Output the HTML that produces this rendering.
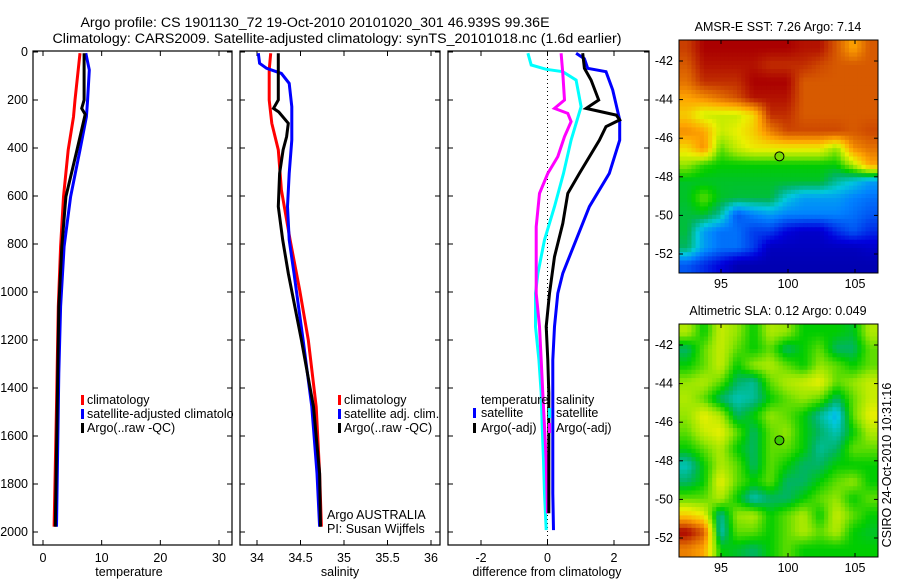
<!DOCTYPE html>
<html><head><meta charset="utf-8"><style>
html,body{margin:0;padding:0;background:#fff;}
svg{display:block;font-family:"Liberation Sans",sans-serif;}
</style></head><body>
<svg id="fig" width="900" height="580" viewBox="0 0 900 580" xmlns="http://www.w3.org/2000/svg">
<defs>
<clipPath id="c1"><rect x="33" y="51" width="199" height="494"/></clipPath>
<clipPath id="c2"><rect x="240" y="51" width="200" height="494"/></clipPath>
<clipPath id="c3"><rect x="448" y="51" width="201" height="494"/></clipPath>
<clipPath id="cl1"><rect x="33" y="380" width="207" height="60"/></clipPath>
</defs>
<text x="315" y="27" font-size="14.2" text-anchor="middle">Argo profile: CS 1901130_72 19-Oct-2010 20101020_301 46.939S 99.36E</text>
<text x="337" y="43" font-size="14.2" text-anchor="middle" textLength="569" lengthAdjust="spacingAndGlyphs">Climatology: CARS2009. Satellite-adjusted climatology: synTS_20101018.nc (1.6d earlier)</text>
<text x="778" y="31" font-size="12.5" text-anchor="middle">AMSR-E SST: 7.26 Argo: 7.14</text>
<text x="778" y="315" font-size="12.5" text-anchor="middle">Altimetric SLA: 0.12 Argo: 0.049</text>
<text transform="translate(891,465) rotate(-90)" font-size="12.5" text-anchor="middle">CSIRO 24-Oct-2010 10:31:16</text>
<g id="layer"></g>
</svg>
<script>
// ---------- data ----------
const depthTick = [0,200,400,600,800,1000,1200,1400,1600,1800,2000];
const tempTick = [0,10,20,30];
const salTick = [34,34.5,35,35.5,36];
const salTickLabel = ["34","34.5","35","35.5","36"];
const diffTick = [-2,0,2];

const tClimDepth = [5,75,200,270,408,603,811,1061,1339,1478,1978];
const tClim = [6.3,6.0,5.45,5.2,4.3,3.5,3.0,2.6,2.4,2.3,1.9];
const tSatDepth = [5,75,200,270,408,603,811,1061,1339,1478,1978];
const tSat = [7.3,7.9,7.6,7.4,6.3,4.7,3.6,3.0,2.7,2.6,2.3];
const tArgoDepth = [5,200,235,260,408,603,811,1061,1978];
const tArgo = [7.0,7.0,6.6,7.2,5.8,3.9,3.2,2.7,2.1];

const sClimDepth = [5,75,200,297,408,575,783,990,1200,1478,1756,1978];
const sClim = [34.157,34.14,34.14,34.17,34.245,34.28,34.38,34.49,34.59,34.68,34.72,34.74];
const sSatDepth = [5,47,68,89,131,228,367,506,644,783,922,1200,1478,1756,1978];
const sSat = [34.015,34.03,34.11,34.28,34.37,34.40,34.40,34.37,34.35,34.37,34.425,34.53,34.63,34.69,34.72];
const sArgoDepth = [5,200,235,250,297,353,408,506,644,783,922,1200,1478,1756,1978];
const sArgo = [34.245,34.245,34.19,34.25,34.36,34.34,34.30,34.26,34.245,34.295,34.36,34.51,34.65,34.72,34.73];

const dSalSatDepth = [5,54,72,82,117,228,367,506,644,783,922,1006,1144,1283,1422,1561,1700,1839,1992];
const dSalSat = [-0.59,-0.49,-0.04,0.46,0.86,1.01,0.71,0.48,0.21,-0.09,-0.29,-0.36,-0.36,-0.26,-0.19,-0.16,-0.12,-0.09,-0.04];
const dSalArgoDepth = [5,89,200,235,256,290,353,436,506,589,728,922,1006,1144,1283,1422,1561,1700,1922];
const dSalArgo = [0.41,0.46,0.51,0.21,0.61,0.71,0.51,0.31,0.01,-0.24,-0.34,-0.34,-0.34,-0.24,-0.19,-0.14,-0.09,-0.04,0.0];
const dTempSatDepth = [5,28,68,82,158,283,367,506,644,783,922,1006,1144,1283,1561,1839,1992];
const dTempSat = [0.86,1.11,1.21,1.76,1.96,2.17,2.17,1.86,1.26,0.86,0.46,0.31,0.21,0.16,0.16,0.16,0.18];
const dTempArgoDepth = [5,68,117,200,235,263,283,311,367,506,589,714,853,1006,1144,1283,1422,1922];
const dTempArgo = [1.06,1.11,1.31,1.54,1.16,2.07,2.17,1.76,1.56,0.96,0.61,0.46,0.21,0.06,-0.04,0.01,0.04,0.04];

const latTick = [-42,-44,-46,-48,-50,-52];
const lonTick = [95,100,105];
const argoLon = 99.36, argoLat = -46.939;
const sstGrid = [
[0.88,0.95,0.95,0.95,0.95,0.95,0.95,0.93,0.93,0.85,0.75,0.85],
[0.85,0.93,0.93,0.93,0.93,0.9,0.9,0.9,0.87,0.85,0.85,0.85],
[0.82,0.9,0.9,0.9,0.95,0.95,0.95,0.85,0.85,0.85,0.85,0.85],
[0.75,0.78,0.82,0.86,0.93,0.93,0.93,0.85,0.85,0.85,0.85,0.85],
[0.7,0.62,0.62,0.62,0.68,0.9,0.9,0.85,0.85,0.85,0.85,0.85],
[0.78,0.75,0.62,0.65,0.7,0.8,0.87,0.87,0.87,0.87,0.85,0.87],
[0.68,0.78,0.55,0.62,0.66,0.66,0.66,0.66,0.66,0.58,0.78,0.82],
[0.58,0.52,0.5,0.5,0.5,0.5,0.5,0.5,0.5,0.5,0.6,0.75],
[0.48,0.48,0.48,0.48,0.48,0.48,0.48,0.48,0.48,0.42,0.38,0.33],
[0.48,0.55,0.48,0.47,0.47,0.47,0.38,0.33,0.33,0.33,0.3,0.28],
[0.47,0.48,0.42,0.25,0.3,0.33,0.3,0.3,0.3,0.3,0.28,0.25],
[0.47,0.33,0.28,0.28,0.22,0.22,0.15,0.12,0.12,0.2,0.25,0.2],
[0.45,0.33,0.28,0.28,0.22,0.1,0.1,0.1,0.1,0.1,0.1,0.12],
[0.25,0.2,0.15,0.08,0.08,0.08,0.08,0.08,0.08,0.08,0.08,0.08]];
const slaGrid = [
[0.6,0.5,0.62,0.58,0.5,0.6,0.58,0.5,0.5,0.5,0.48,0.6],
[0.45,0.55,0.62,0.55,0.5,0.55,0.45,0.5,0.55,0.45,0.45,0.55],
[0.5,0.55,0.62,0.5,0.58,0.6,0.55,0.5,0.58,0.55,0.5,0.55],
[0.58,0.6,0.55,0.45,0.42,0.55,0.6,0.62,0.65,0.55,0.58,0.62],
[0.6,0.55,0.45,0.4,0.42,0.5,0.55,0.58,0.55,0.45,0.55,0.62],
[0.58,0.65,0.6,0.45,0.5,0.58,0.55,0.5,0.42,0.35,0.55,0.65],
[0.55,0.62,0.65,0.55,0.45,0.55,0.58,0.5,0.45,0.4,0.5,0.6],
[0.5,0.55,0.6,0.5,0.45,0.55,0.55,0.5,0.42,0.45,0.55,0.55],
[0.4,0.5,0.6,0.55,0.45,0.55,0.5,0.45,0.45,0.5,0.5,0.5],
[0.45,0.5,0.65,0.55,0.5,0.55,0.45,0.45,0.5,0.55,0.58,0.5],
[0.55,0.55,0.6,0.5,0.4,0.45,0.45,0.5,0.55,0.58,0.5,0.55],
[0.7,0.65,0.42,0.58,0.6,0.5,0.55,0.6,0.5,0.62,0.55,0.5],
[0.95,0.85,0.4,0.55,0.55,0.5,0.55,0.6,0.55,0.6,0.5,0.48],
[0.8,0.75,0.5,0.48,0.45,0.5,0.55,0.5,0.5,0.5,0.5,0.5]];

// ---------- helpers ----------
const NS = "http://www.w3.org/2000/svg";
const layer = document.getElementById('layer');
function mk(tag, attrs, parent){ const e=document.createElementNS(NS,tag); for(const k in attrs) e.setAttribute(k,attrs[k]); (parent||layer).appendChild(e); return e; }
function lin(d0,d1,r0,r1){ return v => r0 + (v-d0)*(r1-r0)/(d1-d0); }
const yD = lin(0,2000,52,532);
const xT = lin(0,30,43,219);
const xS = lin(34,36,257,431);
const xDf = lin(-2,2,481,614);
const TOP=51, BOT=545;

function axesBox(x0,x1,name){
  const r = mk('rect',{x:x0,y:TOP,width:x1-x0,height:BOT-TOP,fill:'none',stroke:'#000','stroke-width':1.2});
  
  
  depthTick.forEach(d=>{
    mk('line',{x1:x0,x2:x0+5,y1:yD(d),y2:yD(d),stroke:'#000'});
    mk('line',{x1:x1,x2:x1-5,y1:yD(d),y2:yD(d),stroke:'#000'});
  });
}
function xTicks(vals,labels,sc,name){
  vals.forEach((v,i)=>{
    const x=sc(v);
    mk('line',{x1:x,x2:x,y1:BOT,y2:BOT-5,stroke:'#000'});
    mk('line',{x1:x,x2:x,y1:TOP,y2:TOP+5,stroke:'#000'});
    const t=mk('text',{x:x,y:562,'font-size':12.5,'text-anchor':'middle'});
    t.textContent=labels[i];
    
    
  });
}
function series(depths,vals,sc,color,clip,name){
  const pts = depths.map((d,i)=>sc(vals[i]).toFixed(1)+','+yD(d).toFixed(1)).join(' ');
  const p = mk('polyline',{points:pts,fill:'none',stroke:color,'stroke-width':3,'stroke-linejoin':'miter','clip-path':'url(#'+clip+')'});
  
  
}
function label(x,y,txt,name,size,anchor){
  const t=mk('text',{x:x,y:y,'font-size':size||12.5,'text-anchor':anchor||'start'});
  t.textContent=txt;
  
  
  return t;
}
function legBar(x,y,color,name){
  const r=mk('rect',{x:x,y:y-9,width:3,height:10,fill:color});
  
  
}

// ---------- panel 1: temperature ----------
axesBox(33,232,'temperature-axes');
depthTick.forEach(d=>{ label(28,yD(d)+4,String(d),'depth-tick-label',12.5,'end'); });
xTicks(tempTick,tempTick.map(String),xT,'temperature-tick-label');
series(tClimDepth,tClim,xT,'#ff0000','c1','temperature-climatology-line');
series(tSatDepth,tSat,xT,'#0000ff','c1','temperature-satellite-line');
series(tArgoDepth,tArgo,xT,'#000000','c1','temperature-argo-line');
label(129,576,'temperature','temperature-axis-title',12.5,'middle');
legBar(81,404,'#ff0000','legend-swatch-climatology');
legBar(81,418,'#0000ff','legend-swatch-satellite');
legBar(81,432,'#000000','legend-swatch-argo');
label(87,404,'climatology','legend-entry-climatology');
label(87,418,'satellite-adjusted climatology','legend-entry-satellite').setAttribute('clip-path','url(#cl1)');
label(87,432,'Argo(..raw -QC)','legend-entry-argo');

// ---------- panel 2: salinity ----------
mk('rect',{x:233,y:TOP,width:7,height:BOT-TOP+1,fill:'#fff'});
axesBox(240,440,'salinity-axes');
xTicks(salTick,salTickLabel,xS,'salinity-tick-label');
series(sClimDepth,sClim,xS,'#ff0000','c2','salinity-climatology-line');
series(sSatDepth,sSat,xS,'#0000ff','c2','salinity-satellite-line');
series(sArgoDepth,sArgo,xS,'#000000','c2','salinity-argo-line');
label(340,576,'salinity','salinity-axis-title',12.5,'middle');
legBar(338,404,'#ff0000','legend-swatch-climatology-2');
legBar(338,418,'#0000ff','legend-swatch-satellite-2');
legBar(338,432,'#000000','legend-swatch-argo-2');
label(344,404,'climatology','legend-entry-climatology-2');
label(344,418,'satellite adj. clim.','legend-entry-satellite-2');
label(344,432,'Argo(..raw -QC)','legend-entry-argo-2');
label(327,519,'Argo AUSTRALIA','agency-label');
label(327,533,'PI: Susan Wijffels','pi-label');

// ---------- panel 3: differences ----------
axesBox(448,649,'difference-axes');
xTicks(diffTick,diffTick.map(String),xDf,'difference-tick-label');
mk('line',{x1:xDf(0),x2:xDf(0),y1:TOP,y2:BOT,stroke:'#000','stroke-dasharray':'1,3'});
series(dSalSatDepth,dSalSat,xDf,'#00ffff','c3','salinity-satellite-diff-line');
series(dSalArgoDepth,dSalArgo,xDf,'#ff00ff','c3','salinity-argo-diff-line');
series(dTempSatDepth,dTempSat,xDf,'#0000ff','c3','temperature-satellite-diff-line');
series(dTempArgoDepth,dTempArgo,xDf,'#000000','c3','temperature-argo-diff-line');
label(547,576,'difference from climatology','difference-axis-title',12.5,'middle');
label(481,404,'temperature','legend-heading-temperature');
label(556,404,'salinity','legend-heading-salinity');
legBar(473,417,'#0000ff','legend-swatch-temp-satellite');
legBar(473,432,'#000000','legend-swatch-temp-argo');
legBar(548,417,'#00ffff','legend-swatch-sal-satellite');
legBar(548,432,'#ff00ff','legend-swatch-sal-argo');
label(481,417,'satellite','legend-entry-temp-satellite');
label(481,432,'Argo(-adj)','legend-entry-temp-argo');
label(556,417,'satellite','legend-entry-sal-satellite');
label(556,432,'Argo(-adj)','legend-entry-sal-argo');

// ---------- maps ----------
const stops=[[0,[0,0,130]],[0.15,[0,0,220]],[0.3,[0,130,255]],[0.38,[0,200,220]],[0.45,[0,180,100]],[0.5,[0,205,0]],[0.58,[150,230,0]],[0.65,[235,240,0]],[0.75,[255,165,0]],[0.85,[215,90,0]],[0.95,[170,0,0]],[1,[130,0,0]]];
function cmap(v){
  for(let i=1;i<stops.length;i++){ if(v<=stops[i][0]){ const a=stops[i-1],b=stops[i],f=(v-a[0])/(b[0]-a[0]); const c=a[1].map((x,k)=>Math.round(x+(b[1][k]-x)*f)); return 'rgb('+c.join(',')+')'; } }
  return 'rgb(130,0,0)';
}
function sample(grid,fx,fy){
  const rows=grid.length, cols=grid[0].length;
  let gx=Math.min(Math.max(fx*cols-0.5,0),cols-1), gy=Math.min(Math.max(fy*rows-0.5,0),rows-1);
  const i0=Math.floor(gx), j0=Math.floor(gy), i1=Math.min(i0+1,cols-1), j1=Math.min(j0+1,rows-1);
  const tx=gx-i0, ty=gy-j0;
  const a=grid[j0][i0]*(1-tx)+grid[j0][i1]*tx, b=grid[j1][i0]*(1-tx)+grid[j1][i1]*tx;
  return a*(1-ty)+b*ty;
}
const mapX0=679, mapX1=878;
const xLon = lin(95,105,721,855);
function drawMap(grid,y0,y1,name,dotFill){
  const yLat = lin(-42,-52,y0+21,y0+214);
  const g = mk('g',{});
  
  
  const SUB=4;
  const cols=grid[0].length*SUB, rows=grid.length*SUB;
  const cw=(mapX1-mapX0)/cols, ch=(y1-y0)/rows;
  for(let j=0;j<rows;j++) for(let i=0;i<cols;i++){
    const v=sample(grid,(i+0.5)/cols,(j+0.5)/rows);
    const c=mk('rect',{x:(mapX0+i*cw).toFixed(2),y:(y0+j*ch).toFixed(2),width:(cw+0.5).toFixed(2),height:(ch+0.5).toFixed(2),fill:cmap(v)},g);
    
    
  }
  mk('rect',{x:mapX0,y:y0,width:mapX1-mapX0,height:y1-y0,fill:'none',stroke:'#000','stroke-width':1},g);
  latTick.forEach(l=>{
    const y=yLat(l);
    mk('line',{x1:mapX0,x2:mapX0+4,y1:y,y2:y,stroke:'#000'},g);
    mk('line',{x1:mapX1,x2:mapX1-4,y1:y,y2:y,stroke:'#000'},g);
    label(673,y+4,String(l),name+'-lat-label',12.5,'end');
  });
  lonTick.forEach(l=>{
    const x=xLon(l);
    mk('line',{x1:x,x2:x,y1:y1,y2:y1-4,stroke:'#000'},g);
    mk('line',{x1:x,x2:x,y1:y0,y2:y0+4,stroke:'#000'},g);
    label(x,y1+15,String(l),name+'-lon-label',12.5,'middle');
  });
  const m=mk('circle',{cx:xLon(argoLon),cy:yLat(argoLat),r:4.5,fill:dotFill,stroke:'#000','stroke-width':1});
  
  
}
drawMap(sstGrid,40,273,'sst-map','rgb(120,220,0)');
drawMap(slaGrid,324,557,'sla-map','rgb(60,200,0)');
</script>
</body></html>
